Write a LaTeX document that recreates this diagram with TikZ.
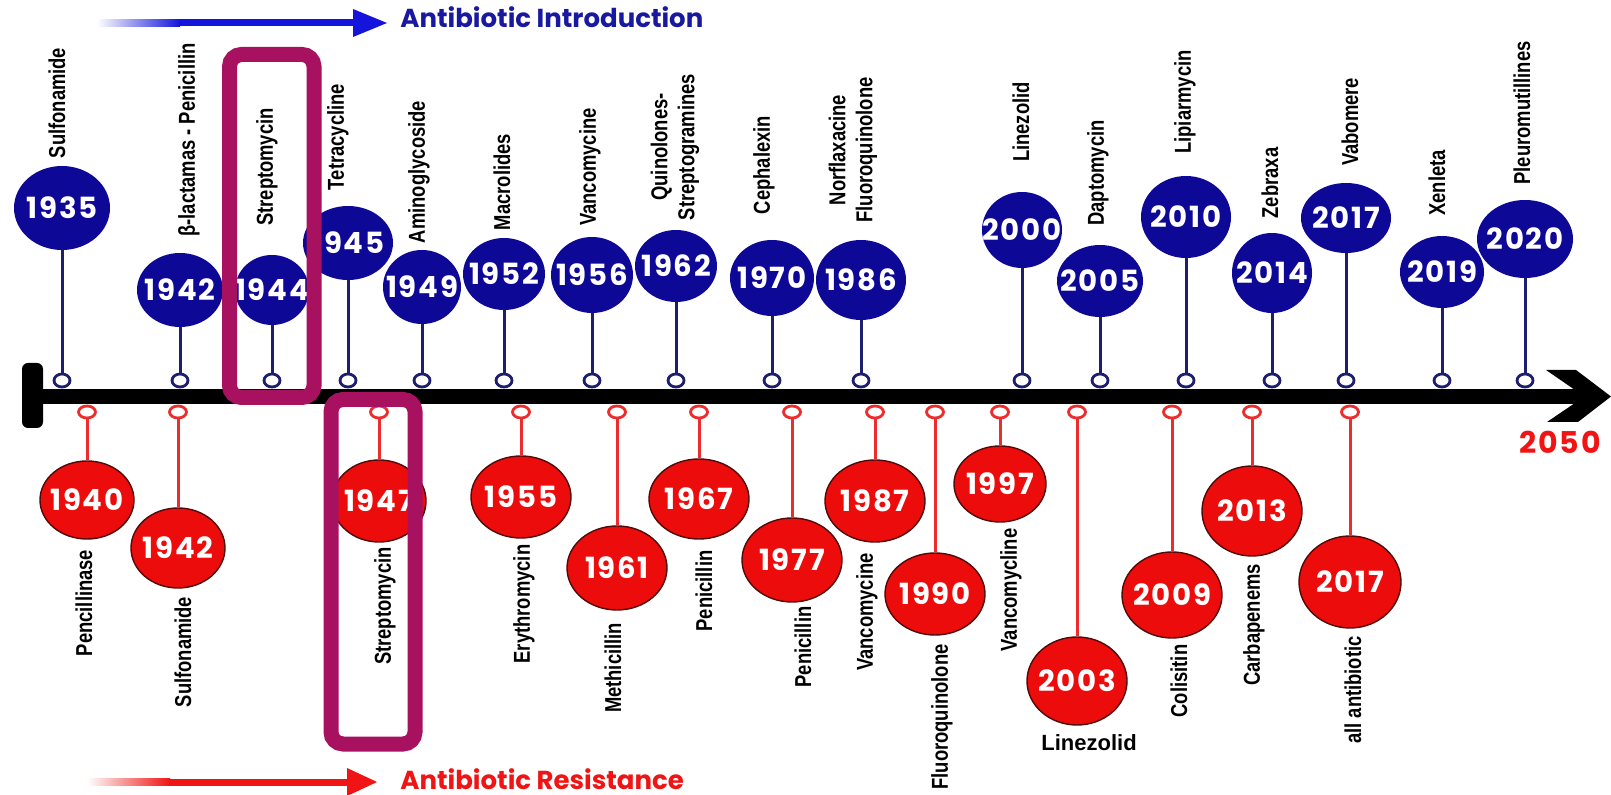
\documentclass[tikz,border=0pt]{standalone}
\usepackage{fontspec}
\setmainfont{Liberation Sans}
\newfontfamily\popf{Poppins}
\newfontfamily\popyr{Poppins}[LetterSpace=6]
\newfontfamily\condf{Liberation Sans}[FakeStretch=0.8]
\usetikzlibrary{shapes.geometric}
\definecolor{navyfill}{RGB}{14,8,150}
\definecolor{navystem}{RGB}{30,30,110}
\definecolor{arrowblue}{RGB}{20,20,220}
\definecolor{introblue}{RGB}{25,25,160}
\definecolor{redfill}{RGB}{236,12,12}
\definecolor{redline}{RGB}{80,10,10}
\definecolor{redstem}{RGB}{235,45,45}
\definecolor{arrowred}{RGB}{240,20,20}
\definecolor{hlbox}{RGB}{168,16,96}
\begin{document}
\begin{tikzpicture}[x=0.5pt,y=-0.5pt,
  yearfont/.style={font=\popyr\bfseries\fontsize{14.6}{16}\selectfont},
  tyear/.style={ellipse, fill=navyfill, inner sep=0pt, text=white, yearfont},
  ryear/.style={ellipse, fill=redfill, draw=redline, line width=0.7pt, inner sep=0pt, text=white, yearfont},
  tmark/.style={ellipse, draw=navystem, fill=white, line width=1.4pt, minimum width=8pt, minimum height=6.5pt, inner sep=0pt},
  rmark/.style={ellipse, draw=redstem, fill=white, line width=1.4pt, minimum width=8.5pt, minimum height=6pt, inner sep=0pt},
  bstem/.style={draw=navystem, line width=1.5pt},
  rstem/.style={draw=redstem, line width=1.5pt},
  vlab/.style={rotate=90, align=center, text=black, inner sep=0pt, font=\condf\bfseries\fontsize{11.5}{13.5}\selectfont},
  hbox/.style={draw=hlbox, line width=7.5pt, rounded corners=6pt},
  headfont/.style={font=\popf\bfseries\fontsize{13}{15}\selectfont}
]
\useasboundingbox (0,0) rectangle (1611,795);
\fill[white] (0,0) rectangle (1611,795);

% top arrow (introduction)
\shade[left color=white, right color=arrowblue] (97,19.5) rectangle (180,26.5);
\fill[arrowblue] (179,19.5) rectangle (356,26.5);
\fill[arrowblue] (353,9) -- (387,23) -- (353,37) -- cycle;
\node[anchor=base west, text=introblue, headfont, inner sep=0pt] (intro) at (400,28) {Antibiotic Introduction};

% bottom arrow (resistance)
\shade[left color=white, right color=arrowred] (87,778.5) rectangle (170,785.5);
\fill[arrowred] (169,778.5) rectangle (350,785.5);
\fill[arrowred] (347,768) -- (377,782) -- (347,796) -- cycle;
\node[anchor=base west, text=arrowred, headfont, inner sep=0pt] (resist) at (400,789) {Antibiotic Resistance};

% timeline bar
\fill[black, rounded corners=3pt] (22,363) rectangle (43,428);
\fill[black] (40,389) rectangle (1585,404);
\fill[black] (1546,370) -- (1576,370) -- (1611,396.5) -- (1578,422) -- (1547,422) -- (1575,403) -- (1575,390) -- cycle;
\node[anchor=base west, text=arrowred, font=\popyr\bfseries\fontsize{15}{17}\selectfont, inner sep=0pt] (end) at (1519,454) {2050};

% introductions (top)
\foreach \yr/\px/\py/\rx/\ry/\lab/\lx/\ly in {
  1935/62/208/48/42/{Sulfonamide}/57/103,
  1942/180/290/43/37/{β-lactamas - Penicillin}/189/140,
  1944/272/290/37/35/{Streptomycin}/267/167,
  1945/348/243/45/37/{Tetracycline}/338/137,
  1949/422/287/39/37/{Aminoglycoside}/419/172,
  1952/504/274/41/36/{Macrolides}/502/182,
  1956/592/275/41/38/{Vancomycine}/590/167,
  1962/676/266/41/36/{Quinolones-\\Streptogramines}/675/147,
  1970/772/278/42/38/{Cephalexin}/764/165,
  1986/861/280/45/40/{Norflaxacine\\Fluoroquinolone}/853/150,
  2000/1022/230/40/38/{Linezolid}/1021/122,
  2005/1100/281/43/36/{Daptomycin}/1098/173,
  2010/1186/217/45/41/{Lipiarmycin}/1185/102,
  2014/1272/273/40/40/{Zebraxa}/1270/183,
  2017/1346/218/45/35/{Vabomere}/1350/122,
  2019/1442/272/42/36/{Xenleta}/1437/183,
  2020/1525/239/48/39/{Pleuromutillines}/1522/113}
{
  \node[tyear, minimum width=\rx pt, minimum height=\ry pt] (t\yr) at (\px,\py) {\makebox[0pt]{\yr}};
  \node[tmark] (tm\yr) at (\px,380.5) {};
  \draw[bstem] (tm\yr) -- (t\yr);
  \node[vlab] (tl\yr) at (\lx,\ly) {\lab};
}

% resistance (bottom)
\foreach \yr/\px/\py/\rx/\ry/\lab/\lx/\ly in {
  1940/87/500/47/39/{Pencillinase}/84/603,
  1942/178/548/47/40/{Sulfonamide}/183/652,
  1947/379/501/47/41/{Streptomycin}/385/606,
  1955/521/497/50/41/{Erythromycin}/524/604,
  1961/617/568/50/42/{Methicillin}/613/668,
  1967/699/499/50/40/{Penicillin}/704/591,
  1977/792/560/50/42/{Penicillin}/803/647,
  1987/875/501/50/41/{Vancomycine}/867/612,
  1990/935/594/50/41/{Fluoroquinolone}/942/717,
  1997/1000/484/46/38/{Vancomycline}/1011/590,
  2009/1172/595/50/43/{Colisitin}/1179/681,
  2013/1252/511/50/45/{Carbapenems}/1254/625,
  2017/1350/582/51/46/{all antibiotic}/1353/690}
{
  \node[ryear, minimum width=\rx pt, minimum height=\ry pt] (r\yr) at (\px,\py) {\makebox[0pt]{\yr}};
  \node[rmark] (rm\yr) at (\px,412) {};
  \draw[rstem] (rm\yr) -- (r\yr);
  \node[vlab] (rl\yr) at (\lx,\ly) {\lab};
}
\node[ryear, minimum width=50pt, minimum height=44pt] (r2003) at (1077,681) {\makebox[0pt]{2003}};
\node[rmark] (rm2003) at (1077,412) {};
\draw[rstem] (rm2003) -- (r2003);
\node[text=black, inner sep=0pt, font=\bfseries\fontsize{11}{13}\selectfont] (rl2003) at (1089,743) {Linezolid};

% highlight boxes
\draw[hbox] (229.5,54.5) rectangle (314,397.5);
\draw[hbox] (331,399.5) rectangle (415,744);
\end{tikzpicture}
\end{document}
